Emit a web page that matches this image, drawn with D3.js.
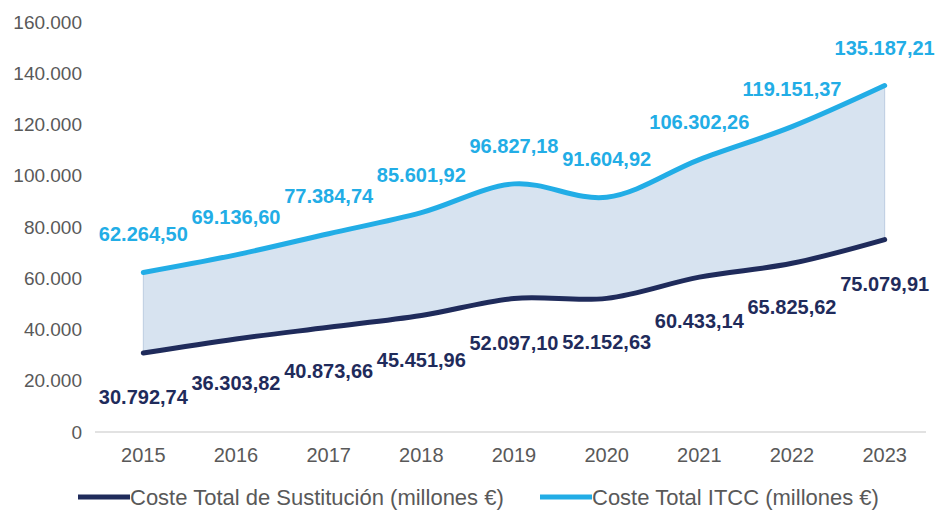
<!DOCTYPE html>
<html>
<head>
<meta charset="utf-8">
<script src="https://cdn.jsdelivr.net/npm/d3@7"></script>
<style>
  body { margin: 0; background: #fff; }
  svg { display: block; font-family: "Liberation Sans", Arial, sans-serif; }
</style>
</head>
<body>
<svg id="chart"></svg>
<script>
// data
var years = ["2015", "2016", "2017", "2018", "2019", "2020", "2021", "2022", "2023"];
var sustitucion = [30792.74, 36303.82, 40873.66, 45451.96, 52097.10, 52152.63, 60433.14, 65825.62, 75079.91];
var itcc = [62264.50, 69136.60, 77384.74, 85601.92, 96827.18, 91604.92, 106302.26, 119151.37, 135187.21];
var yTicks = [0, 20000, 40000, 60000, 80000, 100000, 120000, 140000, 160000];
var seriesNames = ["Coste Total de Sustitución (millones €)", "Coste Total ITCC (millones €)"];

var width = 943, height = 514;
var darkBlue = "#1f2b5b", lightBlue = "#22ade6";

var svg = d3.select("#chart").attr("width", width).attr("height", height);

var x = d3.scaleBand()
    .domain(years)
    .range([97, 931]);

var y = d3.scaleLinear()
    .domain([0, 160000])
    .range([432, 22]);

var cx = d => x(d) + x.bandwidth() / 2;

// es-ES style thousands "." and decimal ","
var loc = d3.formatLocale({ decimal: ",", thousands: ".", grouping: [3], currency: ["", "€"] });
var fmtTick = loc.format(",.0f");
var fmtVal = loc.format(",.2f");

var rows = years.map((yr, i) => ({ year: yr, low: sustitucion[i], high: itcc[i] }));

// y axis labels (no line)
svg.append("g")
    .selectAll("text")
    .data(yTicks)
    .join("text")
    .attr("x", 82)
    .attr("y", d => y(d))
    .attr("dy", "0.35em")
    .attr("text-anchor", "end")
    .attr("fill", "#595959")
    .style("font-size", "19px")
    .text(d => fmtTick(d));

// x axis
svg.append("line")
    .attr("x1", 95).attr("x2", 926)
    .attr("y1", y(0)).attr("y2", y(0))
    .attr("stroke", "#d9d9d9")
    .attr("stroke-width", 1.5);

svg.append("g")
    .selectAll("text")
    .data(years)
    .join("text")
    .attr("x", d => cx(d))
    .attr("y", 462)
    .attr("text-anchor", "middle")
    .attr("fill", "#595959")
    .style("font-size", "20px")
    .text(d => d);

var curve = d3.curveCatmullRom.alpha(0.5);

// band between the two series
svg.append("path")
    .datum(rows)
    .attr("fill", "#d7e3f0")
    .attr("stroke", "#bccde0")
    .attr("stroke-width", 1)
    .attr("d", d3.area()
        .x(d => cx(d.year))
        .y0(d => y(d.low))
        .y1(d => y(d.high))
        .curve(curve));

var line = d3.line().curve(curve);

svg.append("path")
    .datum(rows)
    .attr("fill", "none")
    .attr("stroke", lightBlue)
    .attr("stroke-width", 5)
    .attr("stroke-linecap", "round")
    .attr("d", line.x(d => cx(d.year)).y(d => y(d.high)));

svg.append("path")
    .datum(rows)
    .attr("fill", "none")
    .attr("stroke", darkBlue)
    .attr("stroke-width", 5)
    .attr("stroke-linecap", "round")
    .attr("d", line.x(d => cx(d.year)).y(d => y(d.low)));

// value labels
svg.append("g")
    .selectAll("text")
    .data(rows)
    .join("text")
    .attr("x", d => cx(d.year))
    .attr("y", d => y(d.high) - 38)
    .attr("dy", "0.35em")
    .attr("text-anchor", "middle")
    .attr("fill", lightBlue)
    .style("font-size", "20px")
    .style("font-weight", "bold")
    .text(d => fmtVal(d.high));

svg.append("g")
    .selectAll("text")
    .data(rows)
    .join("text")
    .attr("x", d => cx(d.year))
    .attr("y", d => y(d.low) + 44)
    .attr("dy", "0.35em")
    .attr("text-anchor", "middle")
    .attr("fill", darkBlue)
    .style("font-size", "20px")
    .style("font-weight", "bold")
    .text(d => fmtVal(d.low));

// legend
var legend = svg.append("g");
var legendX = [78, 540];
var legendColors = [darkBlue, lightBlue];
seriesNames.forEach(function (name, i) {
    legend.append("line")
        .attr("x1", legendX[i]).attr("x2", legendX[i] + 52)
        .attr("y1", 497).attr("y2", 497)
        .attr("stroke", legendColors[i])
        .attr("stroke-width", 5);
    legend.append("text")
        .attr("x", legendX[i] + 52)
        .attr("y", 497)
        .attr("dy", "0.35em")
        .attr("fill", "#595959")
        .style("font-size", "22px")
        .text(name);
});
</script>
</body>
</html>
